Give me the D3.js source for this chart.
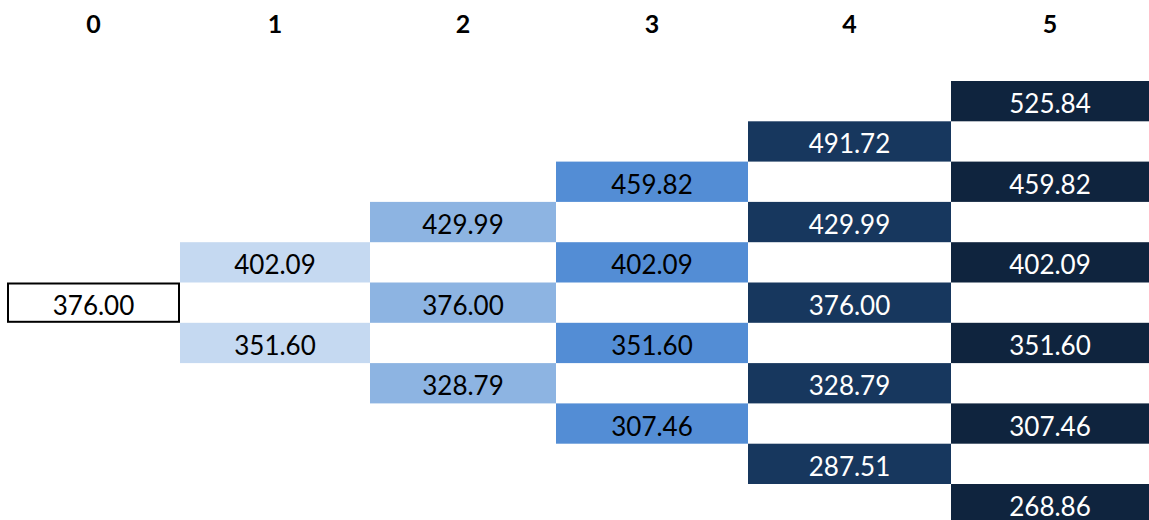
<!DOCTYPE html>
<html><head><meta charset="utf-8">
<script src="https://cdn.jsdelivr.net/npm/d3@7"></script>
<style>
html,body{margin:0;padding:0;background:#fff;}
svg{display:block;}
</style></head>
<body>
<svg id="chart" width="1149" height="520"></svg>
<script>
// ---- data ----
const steps = ["0", "1", "2", "3", "4", "5"];
const step0 = [376.00];
const step1 = [402.09, 351.60];
const step2 = [429.99, 376.00, 328.79];
const step3 = [459.82, 402.09, 351.60, 307.46];
const step4 = [491.72, 429.99, 376.00, 328.79, 287.51];
const step5 = [525.84, 459.82, 402.09, 351.60, 307.46, 268.86];
const stepValues = [step0, step1, step2, step3, step4, step5];

// ---- layout / styles ----
const colEdges = [7, 180, 370, 556, 748, 951, 1149];
const fills = ["#ffffff", "#C5D9F1", "#8DB4E2", "#538DD5", "#17375E", "#0F243E"];
const textFills = ["#000", "#000", "#000", "#000", "#fff", "#fff"];
const rowH = 40.3, rowTop = 81, nRows = 11;
const font = "Lato, 'Open Sans', sans-serif";

const svg = d3.select("#chart");
const xLeft = d3.scaleOrdinal().domain(steps).range(colEdges.slice(0, 6));
const xRight = d3.scaleOrdinal().domain(steps).range(colEdges.slice(1));
const y = d3.scaleLinear().domain([0, nRows]).range([rowTop, rowTop + nRows * rowH]);
const center = s => (xLeft(s) + xRight(s)) / 2;

// headers
svg.selectAll("text.hdr").data(steps).join("text")
  .attr("class", "hdr")
  .attr("x", d => center(d))
  .attr("y", 33)
  .attr("text-anchor", "middle")
  .attr("font-family", font)
  .attr("font-weight", "bold")
  .attr("font-size", 25)
  .text(d => d);

// nodes
const nodes = [];
stepValues.forEach((vals, j) => {
  vals.forEach((v, k) => nodes.push({ step: steps[j], j, k, v, row: 5 - j + 2 * k }));
});

const g = svg.selectAll("g.node").data(nodes).join("g").attr("class", "node");
g.append("rect")
  .attr("x", d => xLeft(d.step) + (d.j === 0 ? 1 : 0))
  .attr("y", d => y(d.row) + (d.j === 0 ? 1 : 0))
  .attr("width", d => xRight(d.step) - xLeft(d.step) - (d.j === 0 ? 2 : 0))
  .attr("height", d => y(d.row + 1) - y(d.row) - (d.j === 0 ? 2 : 0))
  .attr("fill", d => fills[d.j])
  .attr("stroke", d => d.j === 0 ? "#000" : "none")
  .attr("stroke-width", 2);
g.append("text")
  .attr("x", d => center(d.step))
  .attr("y", d => (y(d.row) + y(d.row + 1)) / 2 + 2)
  .attr("dominant-baseline", "central")
  .attr("text-anchor", "middle")
  .attr("font-family", font)
  .attr("font-size", 26)
  .attr("fill", d => textFills[d.j])
  .text(d => d3.format(".2f")(d.v));
</script>
</body></html>
